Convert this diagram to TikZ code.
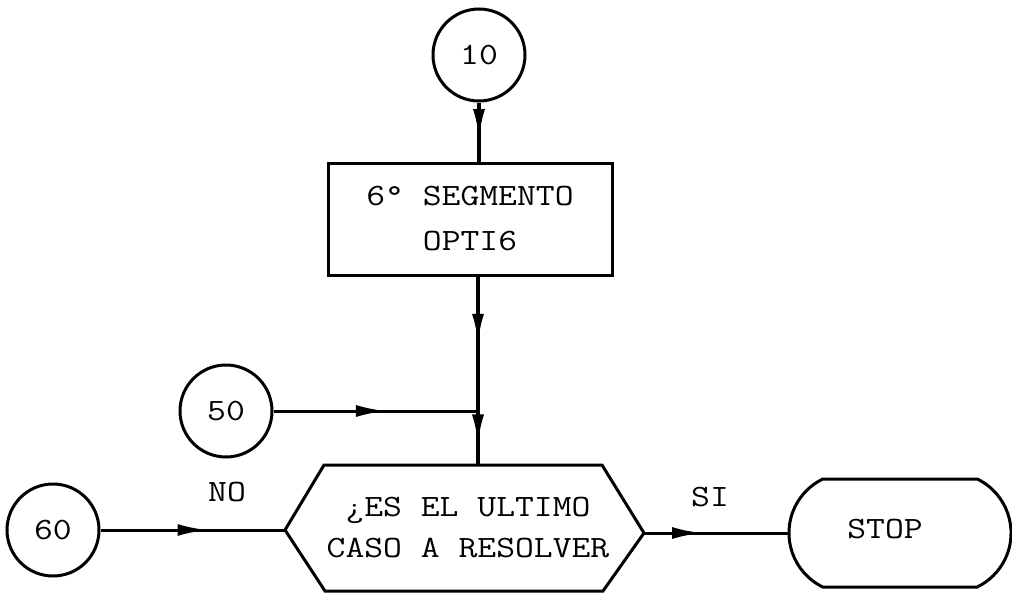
\documentclass[tikz,border=0pt]{standalone}
\usepackage{fontspec}
\newfontfamily\tw{Latin Modern Mono}[FakeStretch=1.18]
\usetikzlibrary{decorations.markings,arrows.meta}
\begin{document}
\begin{tikzpicture}[x=1pt,y=-1pt,
  tfont/.style={font=\tw\fontsize{31}{37}\selectfont},
  txt/.style={tfont, inner sep=0pt},
  conn/.style={circle,draw,line width=3pt,minimum size=92pt,inner sep=0pt,tfont},
  line/.style={line width=3pt},
  midarrow/.style={postaction={decorate},decoration={markings,mark=at position #1 with {\arrow{Latex[length=30pt,width=12pt]}}}}
]
\useasboundingbox (0,0) rectangle (1012,594);

% connectors (circles)
\node[conn] (c10) at (479,55) {10};
\node[conn] (c50) at (226,411) {50};
\node[conn] (c60) at (53,530) {60};

% process box
\node[draw,line width=3pt,minimum width=284pt,minimum height=112pt,align=center,tfont] (seg) at (470,219) {6° SEGMENTO\\[8pt]OPTI6};

% decision hexagon
\coordinate (hexW) at (285,530);
\coordinate (hexNW) at (324,465);
\coordinate (hexN) at (478,465);
\coordinate (hexNE) at (602,465);
\coordinate (hexE) at (644,533);
\coordinate (hexSE) at (603,591);
\coordinate (hexSW) at (325,591);
\draw[line] (hexW) -- (hexNW) -- (hexNE) -- (hexE) -- (hexSE) -- (hexSW) -- cycle;
\node[txt,align=center] (hex) at (468,528) {¿ES EL ULTIMO\\[4pt]CASO A RESOLVER};

% terminal
\draw[line] (822.8,479) -- (977.2,479) arc[start angle=-64.16,end angle=64.16,radius=60]
  -- (822.8,587) arc[start angle=115.84,end angle=244.16,radius=60] -- cycle;
\coordinate (stopW) at (789,533);
\node[txt] (stop) at (885,529) {STOP};

% junction
\coordinate (J) at (478,411);

% connectors
\draw[line,line width=3.6pt,midarrow=0.62] (c10.south) -- (c10.south |- seg.north);
\draw[line,line width=3.6pt,midarrow=0.5] (seg.south -| J) -- (J);
\draw[line,line width=3.6pt,midarrow=0.62] (J) -- (hexN);
\draw[line,midarrow=0.55] (c50.east) -- (J);
\draw[line,midarrow=0.58] (c60.east) -- (hexW);
\draw[line,midarrow=0.4] (hexE) -- (stopW);

% labels
\node[txt] (no) at (227,492) {NO};
\node[txt] (si) at (710,497) {SI};
\end{tikzpicture}
\end{document}
